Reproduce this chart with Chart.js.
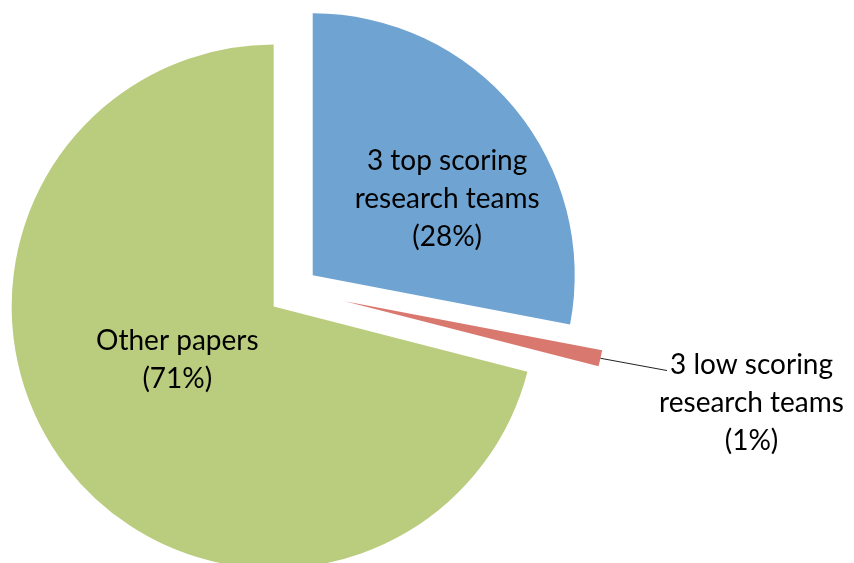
<!DOCTYPE html>
<html>
<head>
<meta charset="utf-8">
<script src="https://cdn.jsdelivr.net/npm/chart.js@4.4.1/dist/chart.umd.min.js"></script>
<style>
  html, body { margin: 0; padding: 0; background: #fff; }
  #chart { display: block; }
</style>
</head>
<body>
<canvas id="chart" width="854" height="563"></canvas>
<script>
// Share of papers by research team group
const categories = ['3 top scoring research teams', '3 low scoring research teams', 'Other papers']
const shares = [28, 1, 71]
const colors = ['#6fa3d1', '#d9786f', '#bacc7e']

// how far each slice is pulled out of the pie (px)
const explode = [23, 51, 27]
// label placement per slice: [angle shift from mid-angle (deg), distance as fraction of radius]
const labelPlace = [[10, 0.59], [1.4, 1.6], [8.9, 0.42]]

const FONT = '28px Lato, "Open Sans", sans-serif'
const LINE_H = 38

function wrap(ctx, text, maxW) {
  const words = text.split(' ')
  const lines = []
  let cur = ''
  words.forEach((w) => {
    const t = cur ? cur + ' ' + w : w
    if (cur && ctx.measureText(t).width > maxW) { lines.push(cur); cur = w } else cur = t
  })
  if (cur) lines.push(cur)
  return lines
}

const explodePlugin = {
  id: 'explode',
  afterDatasetsUpdate(chart) {
    chart.getDatasetMeta(0).data.forEach((arc, i) => {
      const mid = (arc.startAngle + arc.endAngle) / 2
      arc.x += Math.cos(mid) * explode[i]
      arc.y += Math.sin(mid) * explode[i]
    })
  },
}

const labelPlugin = {
  id: 'sliceLabels',
  afterDatasetsDraw(chart) {
    const { ctx } = chart
    const total = shares.reduce((a, b) => a + b, 0)
    ctx.save()
    ctx.font = FONT
    ctx.fillStyle = '#000'
    ctx.textAlign = 'center'
    ctx.textBaseline = 'middle'
    chart.getDatasetMeta(0).data.forEach((arc, i) => {
      const mid = (arc.startAngle + arc.endAngle) / 2
      const [shift, frac] = labelPlace[i]
      const a = mid + shift * Math.PI / 180
      const cx = arc.x + Math.cos(a) * frac * arc.outerRadius
      const cy = arc.y + Math.sin(a) * frac * arc.outerRadius
      const lines = wrap(ctx, categories[i], 215)
      lines.push('(' + Math.round(shares[i] / total * 100) + '%)')
      const y0 = cy - (lines.length - 1) * LINE_H / 2
      lines.forEach((l, k) => ctx.fillText(l, cx, y0 + k * LINE_H))

      if (frac > 1) {
        // leader line from the slice edge to the outside label
        const ox = arc.x + Math.cos(mid) * arc.outerRadius
        const oy = arc.y + Math.sin(mid) * arc.outerRadius
        const left = cx - ctx.measureText(lines[0]).width / 2
        ctx.beginPath()
        ctx.moveTo(ox, oy)
        ctx.lineTo(left - 3, y0 + 6)
        ctx.strokeStyle = '#222'
        ctx.lineWidth = 1
        ctx.stroke()
      }
    })
    ctx.restore()
  },
}

new Chart(document.getElementById('chart'), {
  type: 'pie',
  data: {
    labels: categories,
    datasets: [{
      data: shares,
      backgroundColor: colors,
      borderWidth: 0,
      clip: false,
    }],
  },
  options: {
    responsive: false,
    animation: false,
    radius: 262,
    layout: { padding: { left: 0, right: 264, top: 17, bottom: 0 } },
    plugins: { legend: { display: false }, tooltip: { enabled: false } },
  },
  plugins: [explodePlugin, labelPlugin],
})
</script>
</body>
</html>
